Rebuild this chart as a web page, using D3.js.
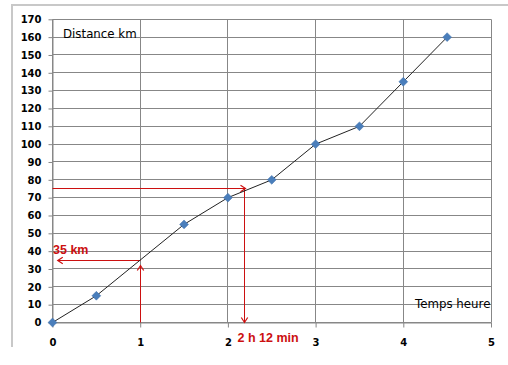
<!DOCTYPE html>
<html><head><meta charset="utf-8">
<script src="https://cdn.jsdelivr.net/npm/d3@7"></script>
<style>html,body{margin:0;padding:0;background:#fff;}svg{display:block;}</style>
</head><body>
<svg id="c" width="508" height="365"></svg>
<script>
const times = [0, 0.5, 1.5, 2, 2.5, 3, 3.5, 4, 4.5];
const distances = [0, 15, 55, 70, 80, 100, 110, 135, 160];
const xTicks = [0, 1, 2, 3, 4, 5];
const yTicks = [0,10,20,30,40,50,60,70,80,90,100,110,120,130,140,150,160,170];
const readTime = 2.2, readTimeDist = 75;      // 75 km -> 2 h 12 min
const readDistTime = 1, readDist = 34.5;     // 1 h -> 35 km
const labels = {yTitle: "Distance km", xTitle: "Temps heure", dist: "35 km", time: "2 h 12 min"};

const svg = d3.select("#c");
const x = d3.scaleLinear().domain([0, 5]).range([52.5, 491]);
const y = d3.scaleLinear().domain([0, 170]).range([322.5, 19.3]);
const red = "#cc1010", grid = "#878787";
const sn = v => Math.floor(v) + 0.5;

// outer frame
svg.append("line").attr("x1",12).attr("x2",508).attr("y1",5).attr("y2",5).attr("stroke","#c8c8c8").attr("stroke-width",2);
svg.append("line").attr("x1",12).attr("x2",12).attr("y1",4).attr("y2",347).attr("stroke","#c8c8c8").attr("stroke-width",2);

// y axis grid + labels
const yAx = svg.append("g").attr("transform",`translate(${x(0)},0)`)
  .call(d3.axisLeft(y).tickValues(yTicks).tickFormat(d3.format("d")).tickSize(4).tickSizeOuter(0).tickPadding(7));
yAx.select(".domain").attr("stroke",grid);
yAx.selectAll(".tick line").attr("stroke",grid);
yAx.selectAll(".tick text").attr("font-family","DejaVu Sans").attr("font-weight","bold").attr("font-size",10).attr("fill","#000");
svg.append("g").selectAll("line").data(yTicks).join("line")
  .attr("x1",x(0)).attr("x2",x(5)).attr("y1",d=>sn(y(d))).attr("y2",d=>sn(y(d)))
  .attr("stroke",grid).attr("stroke-width",1);

// x axis
const xAx = svg.append("g").attr("transform",`translate(0,${y(0)})`)
  .call(d3.axisBottom(x).tickValues(xTicks).tickFormat(d3.format("d")).tickSize(5).tickSizeOuter(0).tickPadding(11));
xAx.select(".domain").attr("stroke",grid);
xAx.selectAll(".tick line").attr("stroke",grid);
xAx.selectAll(".tick text").attr("font-family","DejaVu Sans").attr("font-weight","bold").attr("font-size",10).attr("fill","#000");
svg.append("g").selectAll("line").data(xTicks).join("line")
  .attr("x1",d=>sn(x(d))).attr("x2",d=>sn(x(d))).attr("y1",y(170)).attr("y2",y(0))
  .attr("stroke",grid).attr("stroke-width",1);

// titles
svg.append("text").attr("x",63).attr("y",37.5).attr("font-family","DejaVu Sans").attr("font-size",11.8).attr("fill","#000").text(labels.yTitle);
svg.append("text").attr("x",415).attr("y",308).attr("font-family","DejaVu Sans").attr("font-size",11.8).attr("fill","#000").text(labels.xTitle);

// red reading arrows drawn as paths (line + open head)
const arrow = (x1,y1,x2,y2) => {
  const ang = Math.atan2(y2-y1, x2-x1), h = 5, w = 3.2;
  const bx = x2 - h*Math.cos(ang), by = y2 - h*Math.sin(ang);
  const px = -Math.sin(ang)*w, py = Math.cos(ang)*w;
  svg.append("path").attr("d",`M${x1},${y1}L${x2},${y2}`).attr("fill","none").attr("stroke",red).attr("stroke-width",1);
  svg.append("path").attr("d",`M${bx+px},${by+py}L${x2},${y2}L${bx-px},${by-py}`)
    .attr("fill","none").attr("stroke",red).attr("stroke-width",1.2);
};
const xt = sn(x(readTime)) - 1, yt = sn(y(readTimeDist));
arrow(x(0), yt, xt + 1, yt);
arrow(xt, yt, xt, y(0));
const x1h = sn(x(readDistTime)), yd = sn(y(readDist));
arrow(x1h, y(0), x1h, yd + 5);
arrow(x1h, yd, x(0.06), yd);

svg.append("text").attr("x",53).attr("y",254).attr("font-family","Liberation Sans").attr("font-weight","bold").attr("font-size",12.5).attr("fill",red).text(labels.dist);
svg.append("text").attr("x",237.5).attr("y",342).attr("font-family","Liberation Sans").attr("font-weight","bold").attr("font-size",12.5).attr("fill",red).text(labels.time);

// data line + markers
const pts = times.map((t,i)=>[t, distances[i]]);
svg.append("path").datum(pts).attr("fill","none").attr("stroke","#222").attr("stroke-width",1)
  .attr("d", d3.line().x(d=>x(d[0])).y(d=>y(d[1])));
svg.append("g").selectAll("path").data(pts).join("path")
  .attr("transform",d=>`translate(${x(d[0])},${y(d[1])})`)
  .attr("d", d3.symbol().type(d3.symbolDiamond2).size(50))
  .attr("fill","#4a7ebb").attr("stroke","#3f6fa8").attr("stroke-width",0.5);
</script>
</body></html>
